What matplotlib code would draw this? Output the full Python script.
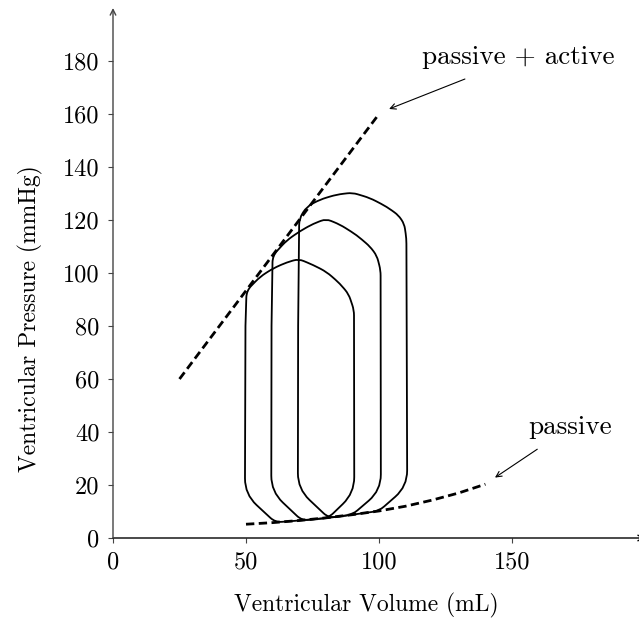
import numpy as np
import matplotlib
matplotlib.use("Agg")
import matplotlib.pyplot as plt
from matplotlib.path import Path
from matplotlib.patches import PathPatch

plt.rcParams["font.family"] = "cmr10"
plt.rcParams["mathtext.fontset"] = "cm"
plt.rcParams["axes.formatter.use_mathtext"] = True

# ---- data -------------------------------------------------------------
# end-systolic pressure-volume relation (passive + active)
espvr_volume = [25, 100]
espvr_pressure = [60, 160]

# end-diastolic pressure-volume relation (passive)
edpvr_volume = [50, 60, 70, 80, 90, 100, 110, 120, 130, 140]
edpvr_pressure = [5.2, 5.8, 6.6, 7.6, 8.8, 10.2, 12.0, 14.3, 17.0, 20.3]

# pressure-volume loops (outline vertices, clockwise from bottom left)
loop1_volume = [61.0, 49.6, 49.8, 50.2, 55.3, 60.3, 65.3, 69.8, 75.3, 80.3, 85.3, 88.6, 90.6, 90.7, 81.0, 70.0]
loop1_pressure = [5.9, 16.5, 80.0, 93.3, 98.6, 101.8, 104.0, 105.3, 103.0, 100.4, 96.0, 92.0, 86.0, 17.0, 7.6, 6.6]

loop2_volume = [71.0, 59.5, 59.6, 60.0, 65.3, 70.3, 75.3, 80.1, 85.3, 91.6, 96.6, 99.2, 100.6, 100.7, 90.0, 81.0]
loop2_pressure = [6.6, 17.5, 80.0, 106.5, 112.3, 115.8, 118.6, 120.4, 118.3, 114.3, 110.0, 106.5, 101.0, 18.0, 8.8, 7.6]

loop3_volume = [81.0, 69.5, 69.6, 70.0, 72.8, 77.8, 84.1, 90.0, 96.6, 102.9, 107.3, 109.5, 110.3, 110.6, 100.0, 90.0]
loop3_pressure = [7.6, 18.5, 80.0, 120.5, 125.0, 127.7, 129.6, 130.3, 128.3, 125.0, 121.8, 118.5, 113.0, 19.5, 10.2, 8.8]

xticks = [0, 50, 100, 150]
yticks = [0, 20, 40, 60, 80, 100, 120, 140, 160, 180]

# corner rounding for the loop outlines (data units)
loop_radii = [2.5, 6.0, 0.0, 2.5, 2.5, 2.5, 2.5, 2.0, 2.5, 2.5, 2.5, 2.0, 2.0, 6.0, 2.5, 0.0]


def rounded_outline(xs, ys, radii):
    pts = np.column_stack([xs, ys]).astype(float)
    n = len(pts)
    verts, codes = [], []
    for i in range(n):
        p = pts[i]
        prv = pts[i - 1]
        nxt = pts[(i + 1) % n]
        d1 = prv - p
        d2 = nxt - p
        l1 = np.hypot(*d1)
        l2 = np.hypot(*d2)
        r = min(radii[i], 0.45 * l1, 0.45 * l2)
        a = p + d1 / l1 * r
        b = p + d2 / l2 * r
        verts.append(a)
        codes.append(Path.MOVETO if i == 0 else Path.LINETO)
        if r > 0:
            verts += [p, b]
            codes += [Path.CURVE3, Path.CURVE3]
    verts.append(verts[0])
    codes.append(Path.LINETO)
    return Path(np.array(verts), codes)


fig = plt.figure(figsize=(6.39, 6.21), dpi=100)
ax = fig.add_axes([113 / 639, 1 - 538 / 621, 532 / 639, 530 / 621])
ax.set_xlim(0, 200)
ax.set_ylim(0, 200)

for sp in ax.spines.values():
    sp.set_visible(False)

# axes with arrow heads
ax.annotate("", xy=(200, 0), xytext=(0, 0), annotation_clip=False,
            arrowprops=dict(arrowstyle="->", lw=1.0, color="black",
                            shrinkA=0, shrinkB=0))
ax.annotate("", xy=(0, 200), xytext=(0, 0), annotation_clip=False,
            arrowprops=dict(arrowstyle="->", lw=1.0, color="#444444",
                            shrinkA=0, shrinkB=0))

dash = (0, (3.0, 1.6))
ax.plot(espvr_volume, espvr_pressure, color="black", lw=2.0, linestyle=dash)
ax.plot(edpvr_volume, edpvr_pressure, color="black", lw=2.0, linestyle=dash)

for lv, lp in [(loop1_volume, loop1_pressure),
               (loop2_volume, loop2_pressure),
               (loop3_volume, loop3_pressure)]:
    ax.add_patch(PathPatch(rounded_outline(lv, lp, loop_radii),
                           facecolor="none", edgecolor="black", lw=1.3,
                           joinstyle="round"))

ax.set_xticks(xticks)
ax.set_xticklabels([str(t) for t in xticks])
ax.set_yticks(yticks)
ax.set_yticklabels([str(t) for t in yticks])
ax.tick_params(direction="out", length=3.6, width=0.8, labelsize=17.5, pad=6,
               color="#444444")

fig.text(366 / 639, 1 - 605 / 621, "Ventricular Volume (mL)", ha="center",
         va="center", fontsize=17)
fig.text(30 / 639, 1 - 319 / 621, "Ventricular Pressure (mmHg)", ha="center",
         va="center", rotation=90, fontsize=17)

arrow_kw = dict(arrowstyle="->", lw=0.8, color="black", shrinkA=0, shrinkB=0)
ax.annotate("", xy=(103.8, 161.9), xytext=(132.3, 173.2), arrowprops=arrow_kw)
ax.text(152.3, 181.5, "passive + active", ha="center", va="center", fontsize=19.5)
ax.annotate("", xy=(143.6, 22.8), xytext=(159.5, 33.5), arrowprops=arrow_kw)
ax.text(171.8, 41.9, "passive", ha="center", va="center", fontsize=19.5)

fig.savefig("out.png", dpi=100)
